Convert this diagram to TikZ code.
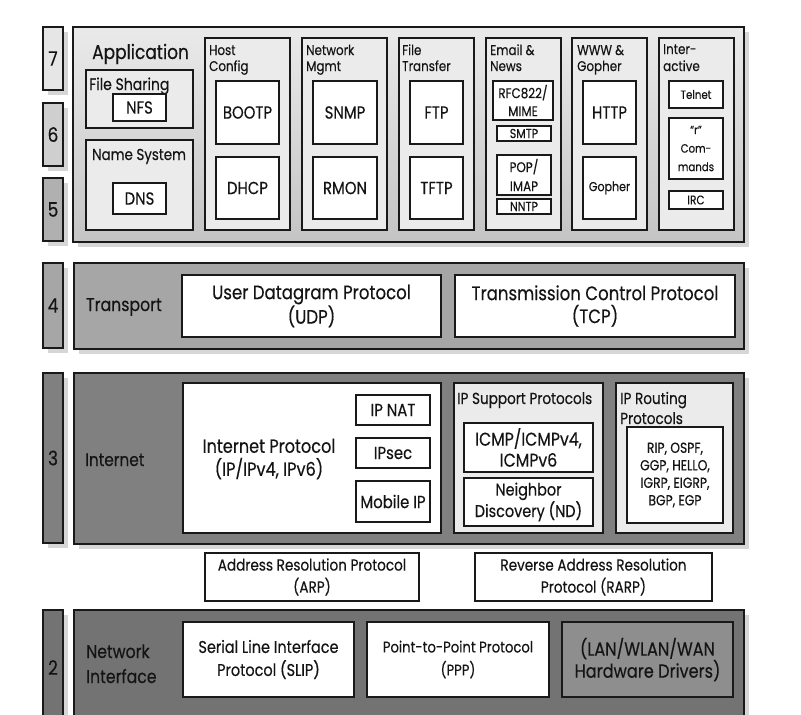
\documentclass[tikz,border=0pt]{standalone}
\usepackage{fontspec}
\setmainfont[FakeStretch=0.85,FakeBold=0.35]{Poppins}
\usetikzlibrary{shadows}
\definecolor{txt}{HTML}{141414}
\definecolor{cA}{HTML}{E6E6E6}
\definecolor{cB}{HTML}{CFCFCF}
\definecolor{cC}{HTML}{B0B0B0}
\definecolor{cT}{HTML}{A6A6A6}
\definecolor{cI}{HTML}{808080}
\definecolor{cN}{HTML}{737373}
\definecolor{cL}{HTML}{8E8E8E}
\definecolor{cBox}{HTML}{EBEBEB}
\definecolor{appT}{HTML}{EAEAEA}
\definecolor{appB}{HTML}{C4C4C4}
\definecolor{shd}{HTML}{D6D6D6}
\newcommand\fsz[2]{\fontsize{#1pt}{#2pt}\selectfont}
% name, style, x1, y1, x2, y2, text
\newcommand\bx[7]{%
  \pgfmathsetmacro\bxw{#5-#3}%
  \pgfmathsetmacro\bxh{#6-#4}%
  \pgfmathsetmacro\bxcx{(#3+#5)/2}%
  \pgfmathsetmacro\bxcy{(#4+#6)/2}%
  \node[#2,minimum width=\bxw pt,minimum height=\bxh pt] (#1) at (\bxcx,\bxcy) {#7};}
\tikzset{
  shad/.style={drop shadow={shadow xshift=5pt,shadow yshift=-5pt,fill=shd,opacity=1}},
  num/.style={draw=black!90,line width=1.4pt,inner sep=0pt,text=txt,font=\fsz{20}{23},shad},
  band/.style={draw=black!90,line width=1.4pt,inner sep=0pt,shad},
  cont/.style={draw=black!90,fill=cBox,line width=1.6pt,inner sep=0pt},
  wbox/.style={draw=black!90,fill=white,line width=1.6pt,inner sep=0pt,align=center,text=txt},
  lbl/.style={inner sep=0pt,text=txt,anchor=base west},
  ctext/.style={inner sep=0pt,text=txt,align=center},
}
\begin{document}
\begin{tikzpicture}[x=1pt,y=-1pt]
\useasboundingbox (0,0) rectangle (801,715);
% ---------------- Application (7,6,5)
\bx{n7}{num,fill=cA}{43}{27}{63}{90}{7}
\bx{n6}{num,fill=cB}{43}{103}{63}{166}{6}
\bx{n5}{num,fill=cC}{43}{178}{63}{241}{5}
\bx{app}{band,top color=appT,bottom color=appB}{73}{27}{744}{242}{}
\node[lbl,font=\fsz{20}{24}] (applbl) at (92,59) {Application};
\bx{fsc}{cont}{86}{70}{193}{128}{}
\node[lbl,font=\fsz{16.5}{19}] (fslbl) at (89,90) {File Sharing};
\bx{nfs}{wbox,font=\fsz{17.5}{20}}{113}{94}{166}{121}{NFS}
\bx{nsc}{cont}{86}{140}{193}{230}{}
\node[lbl,font=\fsz{15.8}{19}] (nslbl) at (92,160) {Name System};
\bx{dns}{wbox,font=\fsz{17.5}{20}}{113}{183}{166}{214}{DNS}
% Host Config
\bx{hcc}{cont}{205}{38}{290}{230}{}
\node[lbl,font=\fsz{14}{17}] (hc1) at (209,55) {Host};
\node[lbl,font=\fsz{14}{17}] (hc2) at (209,71) {Config};
\bx{bootp}{wbox,font=\fsz{17.5}{20}}{216}{81}{279}{144}{BOOTP}
\bx{dhcp}{wbox,font=\fsz{17.5}{20}}{216}{157}{279}{219}{DHCP}
% Network Mgmt
\bx{nmc}{cont}{302}{38}{387}{230}{}
\node[lbl,font=\fsz{14}{17}] (nm1) at (306,55) {Network};
\node[lbl,font=\fsz{14}{17}] (nm2) at (306,71) {Mgmt};
\bx{snmp}{wbox,font=\fsz{17.5}{20}}{313}{81}{377}{144}{SNMP}
\bx{rmon}{wbox,font=\fsz{17.5}{20}}{313}{157}{377}{219}{RMON}
% File Transfer
\bx{ftc}{cont}{399}{38}{474}{230}{}
\node[lbl,font=\fsz{14}{17}] (ft1) at (402,55) {File};
\node[lbl,font=\fsz{14}{17}] (ft2) at (402,71) {Transfer};
\bx{ftp}{wbox,font=\fsz{17.5}{20}}{410}{81}{463}{144}{FTP}
\bx{tftp}{wbox,font=\fsz{17.5}{20}}{410}{157}{463}{219}{TFTP}
% Email & News
\bx{emc}{cont}{486}{38}{561}{230}{}
\node[lbl,font=\fsz{14}{17}] (em1) at (490,55) {Email \&};
\node[lbl,font=\fsz{14}{17}] (em2) at (490,71) {News};
\bx{rfc}{wbox,font=\fsz{14}{18}}{493}{81}{553}{120}{RFC822/\\MIME}
\bx{smtp}{wbox,font=\fsz{13}{14}}{497}{126}{551}{141}{SMTP}
\bx{pop}{wbox,font=\fsz{14}{19}}{497}{155}{551}{195}{POP/\\IMAP}
\bx{nntp}{wbox,font=\fsz{13}{14}}{497}{199}{551}{214}{NNTP}
% WWW & Gopher
\bx{wwc}{cont}{572}{38}{647}{230}{}
\node[lbl,font=\fsz{14}{17}] (ww1) at (577,55) {WWW \&};
\node[lbl,font=\fsz{14}{17}] (ww2) at (577,71) {Gopher};
\bx{http}{wbox,font=\fsz{17.5}{20}}{583}{81}{636}{144}{HTTP}
\bx{goph}{wbox,font=\fsz{13}{16}}{583}{157}{636}{219}{Gopher}
% Interactive
\bx{inc}{cont}{659}{38}{734}{230}{}
\node[lbl,font=\fsz{14}{17}] (in1) at (663,54) {Inter-};
\node[lbl,font=\fsz{14}{17}] (in2) at (663,71) {active};
\bx{telnet}{wbox,font=\fsz{12}{15}}{669}{81}{723}{108}{Telnet}
\bx{rcmd}{wbox,font=\fsz{12}{18.5}}{669}{118}{723}{179}{“r”\\Com-\\mands}
\bx{irc}{wbox,font=\fsz{12.5}{15}}{669}{191}{723}{209}{IRC}
% ---------------- Transport (4)
\bx{n4}{num,fill=cT}{43}{263}{63}{348}{4}
\bx{trans}{band,fill=cT}{74}{263}{744}{349}{}
\node[lbl,font=\fsz{18.5}{21}] (trlbl) at (86,311) {Transport};
\bx{udp}{wbox,font=\fsz{19.5}{23}}{182}{275}{441}{337}{User Datagram Protocol\\(UDP)}
\bx{tcp}{wbox,font=\fsz{19.5}{23}}{455}{275}{735}{337}{Transmission Control Protocol\\(TCP)}
% ---------------- Internet (3)
\bx{n3}{num,fill=cI}{43}{373}{63}{543}{3}
\bx{inet}{band,fill=cI}{74}{373}{744}{544}{}
\node[lbl,font=\fsz{18}{21}] (inlbl) at (85,466) {Internet};
\bx{ipb}{wbox}{183}{383}{441}{533}{}
\node[ctext,font=\fsz{19}{23}] (iptxt) at (269,459) {Internet Protocol\\(IP/IPv4, IPv6)};
\bx{ipnat}{wbox,font=\fsz{17.5}{19}}{356}{395}{430}{425}{IP NAT}
\bx{ipsec}{wbox,font=\fsz{17.5}{19}}{356}{438}{430}{468}{IPsec}
\bx{mip}{wbox,font=\fsz{17.5}{19}}{356}{481}{430}{522}{Mobile IP}
\bx{ipsc}{cont}{454}{383}{603}{533}{}
\node[lbl,font=\fsz{16}{19}] (ipslbl) at (457,404) {IP Support Protocols};
\bx{icmp}{wbox,font=\fsz{18.5}{21}}{464}{423}{593}{472}{ICMP/ICMPv4,\\ICMPv6}
\bx{nd}{wbox,font=\fsz{17}{20}}{464}{478}{593}{526}{Neighbor\\Discovery (ND)}
\bx{iprc}{cont}{616}{383}{733}{533}{}
\node[lbl,font=\fsz{16}{19}] (iprl1) at (620,404) {IP Routing};
\node[lbl,font=\fsz{16}{19}] (iprl2) at (620,424) {Protocols};
\bx{rip}{wbox,font=\fsz{14.5}{17.5}}{627}{427}{723}{523}{RIP, OSPF,\\GGP, HELLO,\\IGRP, EIGRP,\\BGP, EGP}
% ARP / RARP
\bx{arp}{wbox,font=\fsz{16}{22}}{205}{553}{419}{601}{Address Resolution Protocol\\(ARP)}
\bx{rarp}{wbox,font=\fsz{16}{22}}{475}{553}{712}{601}{Reverse Address Resolution\\Protocol (RARP)}
% ---------------- Network Interface (2)
\bx{n2}{num,fill=cN}{43}{610}{63}{725}{2}
\bx{ni}{band,fill=cN}{74}{610}{744}{725}{}
\node[lbl,font=\fsz{18.5}{21}] (nil1) at (86,658) {Network};
\node[lbl,font=\fsz{18.5}{21}] (nil2) at (86,683) {Interface};
\bx{slip}{wbox,font=\fsz{17}{23}}{183}{622}{354}{697}{Serial Line Interface\\Protocol (SLIP)}
\bx{ppp}{wbox,font=\fsz{15.5}{23}}{367}{622}{549}{697}{Point-to-Point Protocol\\(PPP)}
\bx{lan}{wbox,fill=cL,font=\fsz{19}{22}}{562}{622}{733}{697}{(LAN/WLAN/WAN\\Hardware Drivers)}
\end{tikzpicture}
\end{document}
